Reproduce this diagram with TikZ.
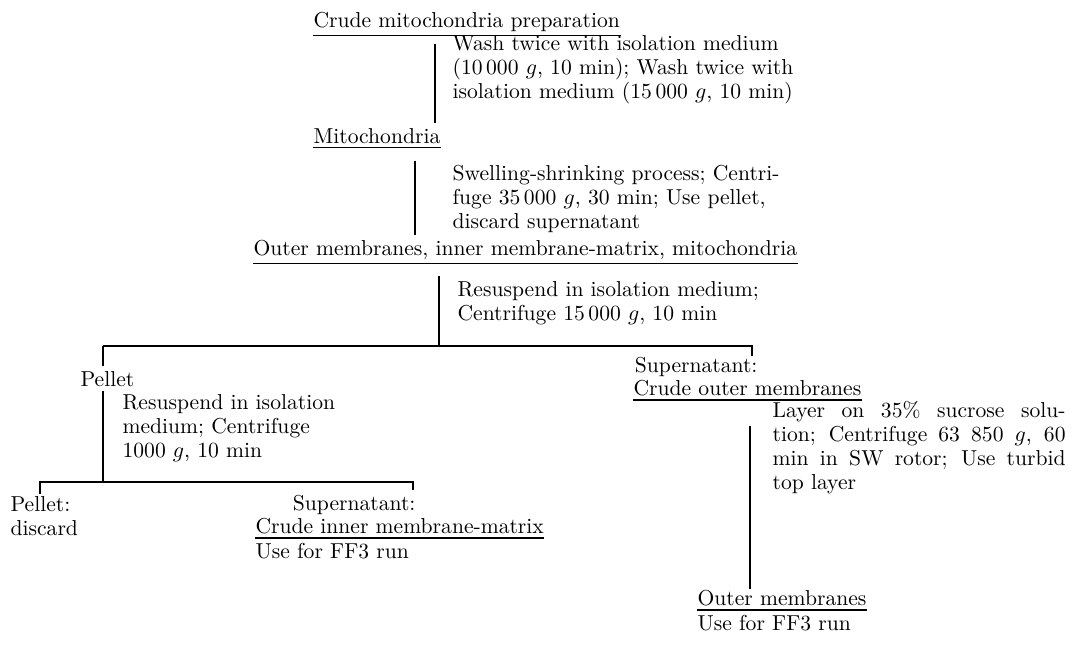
\documentclass[tikz,border=0pt]{standalone}
\usepackage{amsmath}
\usepackage{amssymb}

\begin{document}
\begin{tikzpicture}[x=0.5pt, y=-0.5pt, line width=0.6pt,
    every node/.style={font=\fontsize{10.8}{12}\selectfont},
    stage/.style={anchor=base west, inner xsep=0pt, inner ysep=2pt},
    plain/.style={anchor=base west, inner sep=0pt},
    steptext/.style={anchor=north west, inner sep=0pt, align=left}]
  \useasboundingbox (0,0) rectangle (1073,653);

  % main line
  \node[stage] (crude) at (313,27) {Crude mitochondria preparation};
  \draw (crude.south west) -- (crude.south east);
  \node[steptext] (wash) at (452,35)
    {Wash twice with isolation medium\\(10\,000 $g$, 10 min); Wash twice with\\isolation medium (15\,000 $g$, 10 min)};
  \node[stage] (mito) at (313,143) {Mitochondria};
  \draw (mito.south west) -- (mito.south east);
  \draw ([yshift=-4pt]crude.south -| 435,0) -- (mito.north -| 435,0);

  \node[steptext] (swell) at (452,165)
    {Swelling-shrinking process; Centri-\\fuge 35\,000 $g$, 30 min; Use pellet,\\discard supernatant};
  \node[stage] (outer) at (253,255) {Outer membranes, inner membrane-matrix, mitochondria};
  \draw (outer.south west) -- (outer.south east);
  \draw ([yshift=-6.5pt]mito.south -| 415,0) -- (outer.north -| 415,0);

  \node[steptext] (resusp) at (457,281)
    {Resuspend in isolation medium;\\Centrifuge 15\,000 $g$, 10 min};
  \coordinate (split) at (439,346);
  \coordinate (bl) at (103,346);
  \coordinate (br) at (752,346);
  \draw ([yshift=-6pt]outer.south -| split) -- (split);

  % supernatant branch
  \node[stage, anchor=base east] (sup) at (758,372) {Supernatant:};
  \draw (bl) -- (br) -- ([yshift=-2pt]sup.north -| br);
  \node[stage] (couter) at (633,395) {Crude outer membranes};
  \draw (couter.south west) -- (couter.south east);
  \node[steptext, align=justify, text width=146.5pt] (layer) at (772,401)
    {Layer on 35\% sucrose solu-\linebreak tion; Centrifuge 63 850 $g$, 60\linebreak min in SW rotor; Use turbid\linebreak top layer};
  \node[stage] (omem) at (697,605) {Outer membranes};
  \draw (omem.south west) -- (omem.south east);
  \node[plain] (use2) at (697,630) {Use for FF3 run};
  \draw ([yshift=-13pt]couter.south -| 750,0) -- ([yshift=-2pt]omem.north -| 750,0);

  % pellet branch
  \node[stage] (pellet) at (80,386) {Pellet};
  \draw (bl) -- (pellet.north -| bl);
  \node[steptext] (resusp2) at (122,394)
    {Resuspend in isolation\\medium; Centrifuge\\1000 $g$, 10 min};
  \coordinate (split2) at (103,482);
  \draw (pellet.south -| bl) -- (split2);

  \node[steptext] (discard) at (10,496) {Pellet:\\discard};
  \node[stage, anchor=base east] (supi) at (416,510) {Supernatant:};
  \draw ([yshift=1pt]discard.north -| 40,0) |- (split2) -| (supi.north -| 413,0);
  \node[stage] (cinner) at (255,533) {Crude inner membrane-matrix};
  \draw (cinner.south west) -- (cinner.south east);
  \node[plain] (use1) at (255,558) {Use for FF3 run};
\end{tikzpicture}
\end{document}
